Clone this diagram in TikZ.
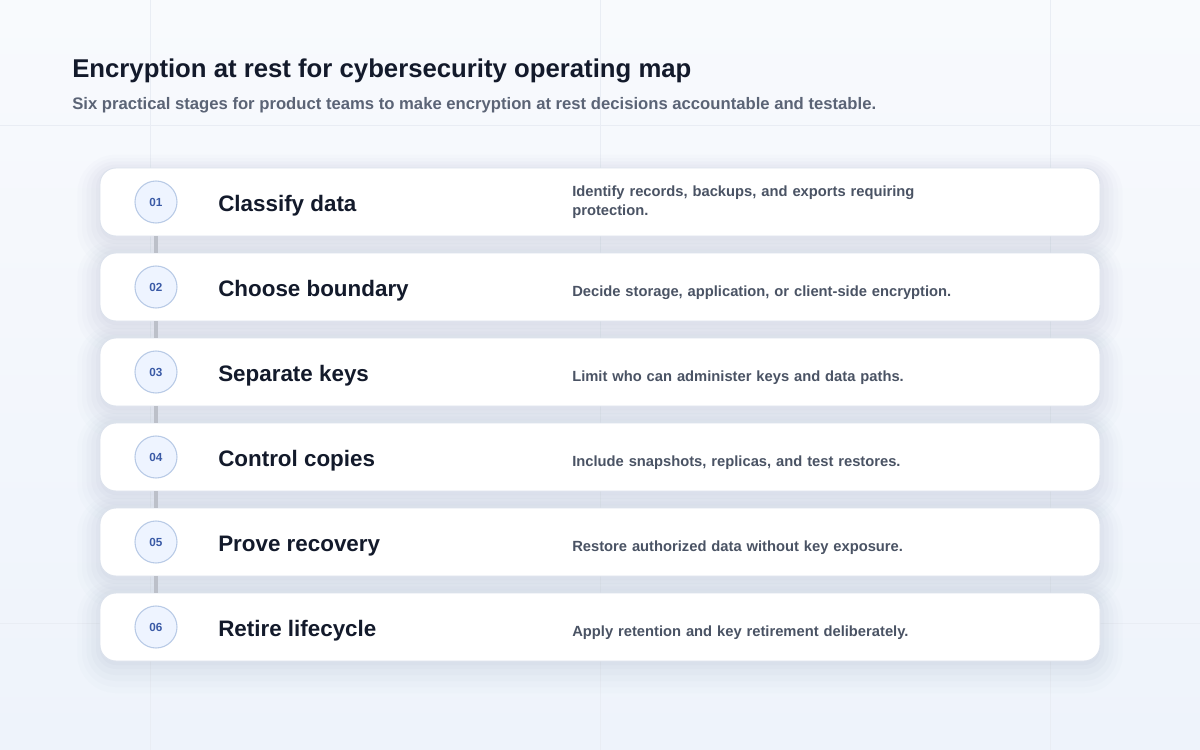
\documentclass[tikz,border=0pt]{standalone}
\usepackage{fontspec}
\setmainfont{Liberation Sans}
\hyphenpenalty=10000
\exhyphenpenalty=10000

\definecolor{inkdark}{HTML}{131A2B}
\definecolor{inksub}{HTML}{5B6476}
\definecolor{inknote}{HTML}{4A5364}
\definecolor{badgeink}{HTML}{3A5AA6}
\definecolor{badgefill}{HTML}{EEF4FF}
\definecolor{badgeline}{HTML}{B8CAE6}
\definecolor{cardline}{HTML}{DCE2EC}
\definecolor{linkgray}{HTML}{BCC0C9}
\definecolor{bgtop}{HTML}{F8FAFD}
\definecolor{bgbottom}{HTML}{EEF3FB}
\definecolor{gridline}{HTML}{E9EDF4}
\definecolor{shadowtint}{HTML}{8390B0}

\tikzset{
  card/.style={draw=cardline, line width=0.7pt, fill=white, rounded corners=12pt,
    minimum width=750pt, minimum height=51pt, inner sep=0pt,
    preaction={draw=shadowtint, line width=34pt, opacity=0.02, transform canvas={yshift=-7pt}},
    preaction={draw=shadowtint, line width=27pt, opacity=0.025, transform canvas={yshift=-6pt}},
    preaction={draw=shadowtint, line width=20pt, opacity=0.03, transform canvas={yshift=-5pt}},
    preaction={draw=shadowtint, line width=13pt, opacity=0.035, transform canvas={yshift=-4pt}},
    preaction={draw=shadowtint, fill=shadowtint, line width=6pt, opacity=0.04, transform canvas={yshift=-3pt}}},
  badge/.style={circle, draw=badgeline, line width=0.8pt, fill=badgefill, minimum size=31.5pt,
    inner sep=0pt, text=badgeink, font=\fontsize{8.8}{10}\selectfont\bfseries},
  steptitle/.style={anchor=base west, inner sep=0pt, text=inkdark,
    font=\fontsize{16.8}{20}\selectfont\bfseries},
  stepnote/.style={anchor=west, inner sep=0pt, text width=300pt, align=left, text=inknote,
    font=\fontsize{11.05}{14.3}\selectfont\bfseries},
  link/.style={line width=2.6pt, color=linkgray},
}

\begin{document}
\begin{tikzpicture}[x=0.75pt, y=-0.75pt]
		%%%%% BACKGROUND %%%%%
		\useasboundingbox (0,0) rectangle (1200,750);
		\shade[top color=bgtop, bottom color=bgbottom] (0,0) rectangle (1200,750);
		\draw[gridline, line width=0.6pt] (150,0) -- (150,750);
		\draw[gridline, line width=0.6pt] (600,0) -- (600,750);
		\draw[gridline, line width=0.6pt] (1050,0) -- (1050,750);
		\draw[gridline, line width=0.6pt] (0,125) -- (1200,125);
		\draw[gridline, line width=0.6pt] (0,623) -- (1200,623);
		
		%%%%% HEADER %%%%%
		\node[anchor=base west, inner sep=0pt, text=inkdark, font=\fontsize{19.3}{23}\selectfont\bfseries] (title) at (72,77) {Encryption at rest for cybersecurity operating map};
		\node[anchor=base west, inner sep=0pt, text=inksub, font=\fontsize{12.5}{15}\selectfont\bfseries] (subtitle) at (72,109) {Six practical stages for product teams to make encryption at rest decisions accountable and testable.};
		
		%%%%% CARDS %%%%%
		\node[card] (card1) at (600,202) {};
		\node[card] (card2) at (600,287) {};
		\node[card] (card3) at (600,372) {};
		\node[card] (card4) at (600,457) {};
		\node[card] (card5) at (600,542) {};
		\node[card] (card6) at (600,627) {};
		
		%%%%% BADGES %%%%%
		\node[badge] (badge1) at (156,202) {01};
		\node[badge] (badge2) at (156,287) {02};
		\node[badge] (badge3) at (156,372) {03};
		\node[badge] (badge4) at (156,457) {04};
		\node[badge] (badge5) at (156,542) {05};
		\node[badge] (badge6) at (156,627) {06};
		
		\draw[link] (card1.south -| badge1) -- (card2.north -| badge2);
		\draw[link] (card2.south -| badge2) -- (card3.north -| badge3);
		\draw[link] (card3.south -| badge3) -- (card4.north -| badge4);
		\draw[link] (card4.south -| badge4) -- (card5.north -| badge5);
		\draw[link] (card5.south -| badge5) -- (card6.north -| badge6);
		
		%%%%% TEXTS %%%%%
		\node[steptitle] (name1) at (218,211) {Classify data};
		\node[stepnote] (note1) at (572,202) {Identify records, backups, and exports requiring protection.};
		
		\node[steptitle] (name2) at (218,296) {Choose boundary};
		\node[stepnote] (note2) at (572,293) {Decide storage, application, or client-side encryption.};
		
		\node[steptitle] (name3) at (218,381) {Separate keys};
		\node[stepnote] (note3) at (572,378) {Limit who can administer keys and data paths.};
		
		\node[steptitle] (name4) at (218,466) {Control copies};
		\node[stepnote] (note4) at (572,463) {Include snapshots, replicas, and test restores.};
		
		\node[steptitle] (name5) at (218,551) {Prove recovery};
		\node[stepnote] (note5) at (572,548) {Restore authorized data without key exposure.};
		
		\node[steptitle] (name6) at (218,636) {Retire lifecycle};
		\node[stepnote] (note6) at (572,633) {Apply retention and key retirement deliberately.};
		
		%%%%% END %%%%%
	\end{tikzpicture}
\end{document}
